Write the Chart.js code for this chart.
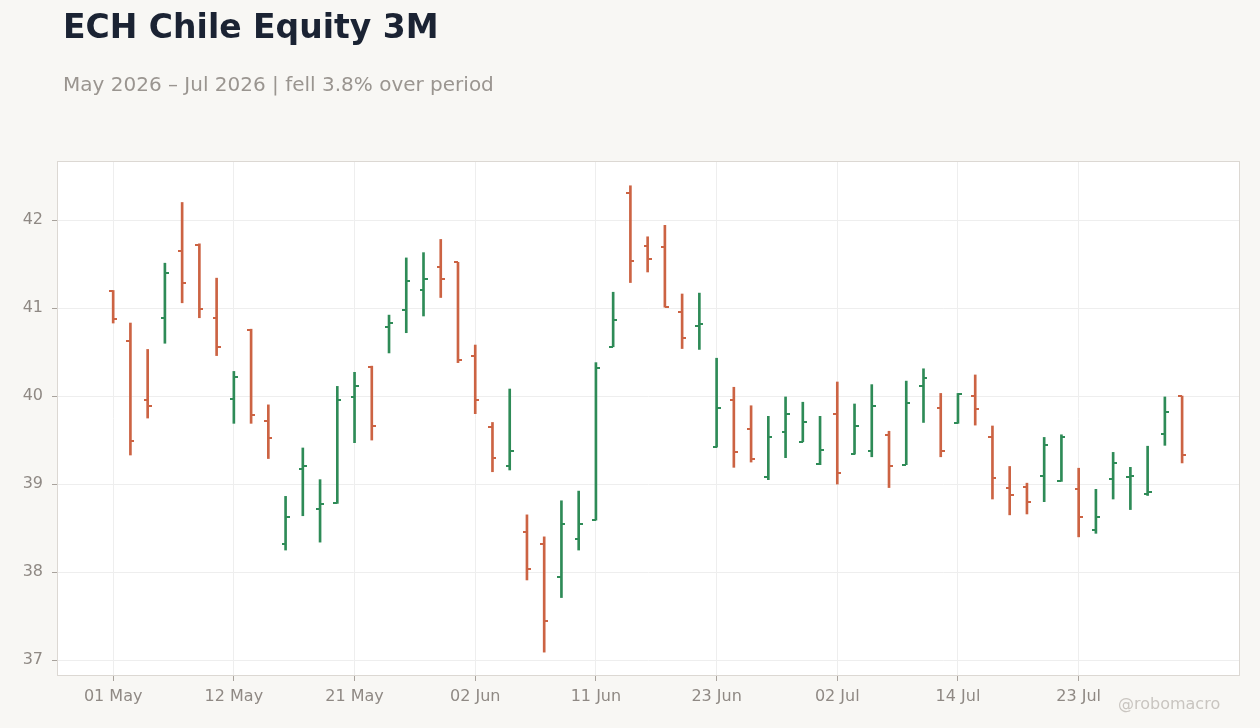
<!DOCTYPE html>
<html>
<head>
<meta charset="utf-8">
<script src="https://cdn.jsdelivr.net/npm/chart.js@4.4.1/dist/chart.umd.min.js"></script>
<style>
  html, body { margin:0; padding:0; background:#f8f7f4; }
  body { width:1260px; height:728px; position:relative; overflow:hidden; font-family:"DejaVu Sans", sans-serif; }
  #wrap { position:absolute; left:0; top:0; width:1260px; height:728px; }
  #title { position:absolute; left:63px; top:7px; font-size:33px; font-weight:bold; color:#1b2333; white-space:nowrap; }
  #subtitle { position:absolute; left:63px; top:72px; font-size:20px; color:#9a9590; white-space:nowrap; }
  #mark { position:absolute; left:1118px; top:694px; font-size:16px; color:#c9c5c0; white-space:nowrap; }
</style>
</head>
<body>
<div id="wrap"><canvas id="c"></canvas></div>
<div id="title">ECH Chile Equity 3M</div>
<div id="subtitle">May 2026 – Jul 2026 | fell 3.8% over period</div>
<div id="mark">@robomacro</div>
<script>
const dates = [
  '2026-05-01','2026-05-04','2026-05-05','2026-05-06','2026-05-07','2026-05-08','2026-05-11','2026-05-12',
  '2026-05-13','2026-05-14','2026-05-15','2026-05-18','2026-05-19','2026-05-20','2026-05-21','2026-05-22',
  '2026-05-26','2026-05-27','2026-05-28','2026-05-29','2026-06-01','2026-06-02','2026-06-03','2026-06-04',
  '2026-06-05','2026-06-08','2026-06-09','2026-06-10','2026-06-11','2026-06-12','2026-06-15','2026-06-16',
  '2026-06-17','2026-06-18','2026-06-22','2026-06-23','2026-06-24','2026-06-25','2026-06-26','2026-06-29',
  '2026-06-30','2026-07-01','2026-07-02','2026-07-06','2026-07-07','2026-07-08','2026-07-09','2026-07-10',
  '2026-07-13','2026-07-14','2026-07-15','2026-07-16','2026-07-17','2026-07-20','2026-07-21','2026-07-22',
  '2026-07-23','2026-07-24','2026-07-27','2026-07-28','2026-07-29','2026-07-30','2026-07-31'
];
const openVals = [
  41.19,40.63,39.95,40.89,41.65,41.72,40.89,39.97,40.75,39.72,
  38.32,39.17,38.72,38.78,39.99,40.33,40.79,40.98,41.20,41.47,
  41.52,40.46,39.65,39.21,38.46,38.32,37.94,38.38,38.59,40.56,
  42.31,41.70,41.69,40.96,40.80,39.42,39.95,39.63,39.08,39.59,
  39.48,39.23,39.80,39.34,39.38,39.56,39.22,40.12,39.87,39.69,
  40.00,39.54,38.95,38.97,39.09,39.03,38.94,38.48,39.06,39.08,
  38.89,39.57,40.00
];
const highVals = [
  41.20,40.83,40.53,41.51,42.20,41.73,41.34,40.28,40.76,39.90,
  38.86,39.41,39.05,40.11,40.27,40.34,40.92,41.57,41.63,41.78,
  41.52,40.58,39.70,40.08,38.65,38.40,38.81,38.92,40.38,41.18,
  42.39,41.81,41.94,41.16,41.17,40.43,40.10,39.89,39.77,39.99,
  39.93,39.77,40.16,39.91,40.13,39.60,40.17,40.31,40.03,40.03,
  40.24,39.66,39.20,39.01,39.53,39.56,39.18,38.94,39.36,39.19,
  39.43,39.99,40.00
];
const lowVals = [
  40.83,39.33,39.75,40.60,41.06,40.89,40.46,39.69,39.69,39.29,
  38.25,38.64,38.34,38.78,39.47,39.50,40.49,40.72,40.91,41.12,
  40.38,39.80,39.14,39.16,37.91,37.09,37.71,38.25,38.59,40.56,
  41.29,41.41,41.01,40.54,40.53,39.42,39.19,39.25,39.05,39.30,
  39.48,39.22,39.00,39.34,39.31,38.96,39.22,39.70,39.31,39.69,
  39.67,38.83,38.65,38.66,38.80,39.03,38.40,38.44,38.83,38.71,
  38.87,39.44,39.24
];
const closeVals = [
  40.88,39.49,39.89,41.40,41.28,40.99,40.56,40.22,39.79,39.52,
  38.63,39.21,38.77,39.96,40.12,39.66,40.83,41.31,41.33,41.33,
  40.41,39.95,39.30,39.38,38.03,37.44,38.55,38.55,40.32,40.86,
  41.53,41.56,41.01,40.66,40.82,39.86,39.36,39.29,39.54,39.80,
  39.70,39.39,39.13,39.66,39.89,39.20,39.92,40.20,39.38,40.02,
  39.85,39.07,38.88,38.80,39.44,39.54,38.62,38.62,39.24,39.09,
  38.91,39.82,39.33
];
const xTickIndex = [0,7,14,21,28,35,42,49,56];
const xTickLabels = ['01 May','12 May','21 May','02 Jun','11 Jun','23 Jun','02 Jul','14 Jul','23 Jul'];
const yTickValues = [37,38,39,40,41,42];

const UP = '#2e8b57', DOWN = '#cc6343';
const barColors = openVals.map((o,i) => closeVals[i] >= o ? UP : DOWN);
const rangeData = dates.map((d,i) => ({x:i, y:[lowVals[i], highVals[i]]}));

const plotFrame = {
  id:'plotFrame',
  beforeDatasetsDraw(chart){
    const {ctx, chartArea:a} = chart;
    ctx.save();
    ctx.strokeStyle = '#dcd8d3';
    ctx.lineWidth = 1;
    ctx.strokeRect(a.left-0.5, a.top-0.5, a.right-a.left+1, a.bottom-a.top+1);
    ctx.restore();
  },
  beforeDraw(chart){
    const {ctx, chartArea:a} = chart;
    ctx.save();
    ctx.fillStyle = '#ffffff';
    ctx.fillRect(a.left, a.top, a.right-a.left, a.bottom-a.top);
    ctx.restore();
  }
};
const ohlcTicks = {
  id:'ohlcTicks',
  afterDatasetsDraw(chart){
    const {ctx} = chart;
    const xs = chart.scales.x, ys = chart.scales.y;
    ctx.save();
    dates.forEach((d,i) => {
      const px = Math.round(xs.getPixelForValue(i));
      ctx.fillStyle = barColors[i];
      const yo = Math.round(ys.getPixelForValue(openVals[i]));
      const yc = Math.round(ys.getPixelForValue(closeVals[i]));
      ctx.fillRect(px-4, yo-1, 4, 2);
      ctx.fillRect(px, yc-1, 4, 2);
    });
    ctx.restore();
  }
};

new Chart(document.getElementById('c'), {
  type:'bar',
  data:{
    datasets:[{
      data: rangeData,
      backgroundColor: barColors,
      borderWidth: 0,
      barThickness: 2,
      borderSkipped: false
    }]
  },
  options:{
    responsive:true,
    maintainAspectRatio:false,
    animation:false,
    devicePixelRatio: 1,
    layout:{ padding:{ top:162, left:0, right:21, bottom:0 } },
    plugins:{ legend:{display:false}, tooltip:{enabled:false}, title:{display:false} },
    scales:{
      x:{
        type:'linear',
        min:-3.2, max:65.3,
        offset:false,
        afterFit(s){ s.height = 53; },
        afterBuildTicks(s){ s.ticks = xTickIndex.map(v => ({value:v})); },
        grid:{ color:'#eeeeee', tickColor:'#a8a29c', tickLength:6, offset:false, drawOnChartArea:true },
        border:{ display:false },
        ticks:{
          autoSkip:false, maxRotation:0, padding:6,
          color:'#8f8984',
          font:{ family:'DejaVu Sans', size:16 },
          callback(v){ const k = xTickIndex.indexOf(v); return k >= 0 ? xTickLabels[k] : ''; }
        }
      },
      y:{
        type:'linear',
        min:36.83, max:42.66,
        afterFit(s){ s.width = 58; },
        afterBuildTicks(s){ s.ticks = yTickValues.map(v => ({value:v})); },
        grid:{ color:'#eeeeee', tickColor:'#a8a29c', tickLength:6 },
        border:{ display:false },
        ticks:{
          padding:9,
          color:'#8f8984',
          font:{ family:'DejaVu Sans', size:16 },
          callback(v){ return String(v); }
        }
      }
    }
  },
  plugins:[plotFrame, ohlcTicks]
});
</script>
</body>
</html>
